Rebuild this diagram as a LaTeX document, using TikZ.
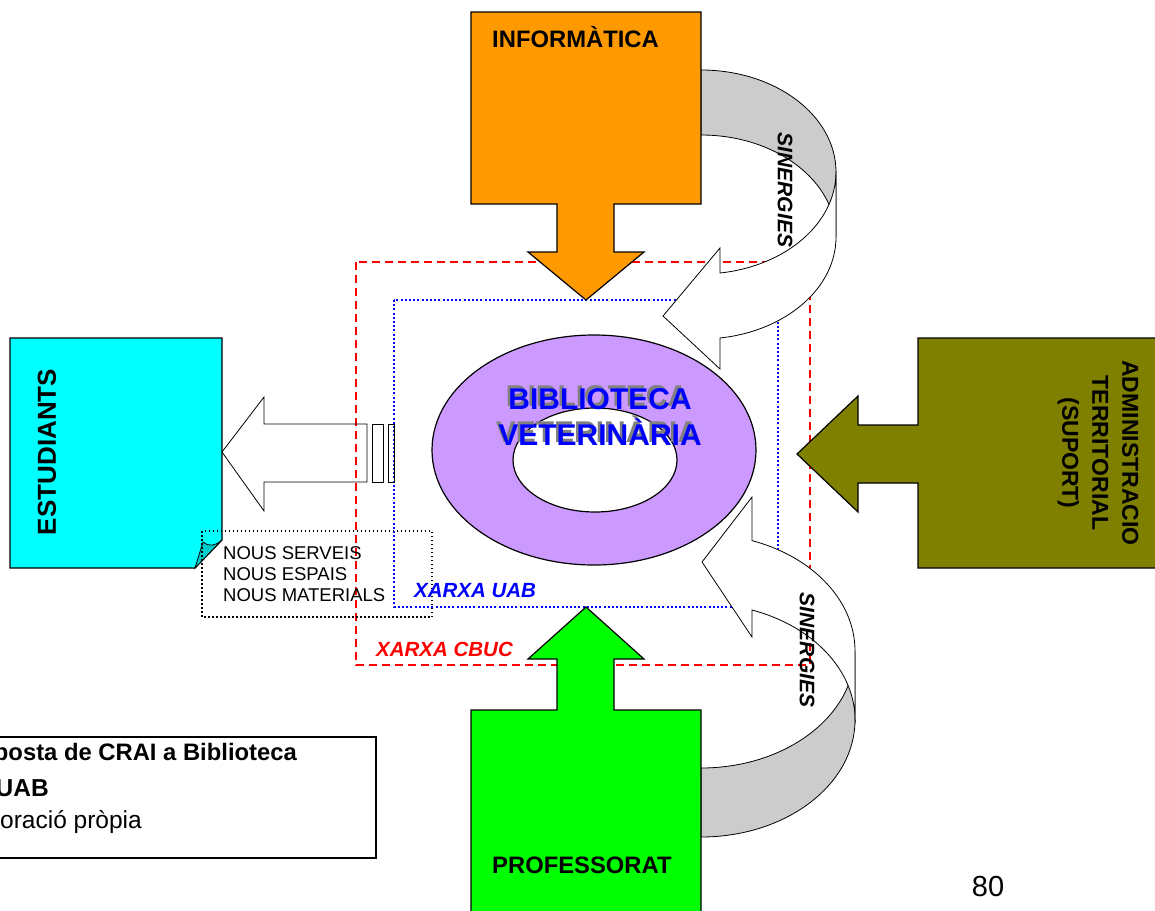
\documentclass[tikz,border=0pt]{standalone}
\usepackage{fontspec}
\setmainfont{Liberation Sans}
\usetikzlibrary{positioning}
\definecolor{informatica}{RGB}{255,153,0}
\definecolor{professorat}{RGB}{0,255,0}
\definecolor{estudiants}{RGB}{0,255,255}
\definecolor{plec}{RGB}{0,204,204}
\definecolor{admin}{RGB}{128,128,0}
\definecolor{biblio}{RGB}{204,153,255}
\definecolor{sinergia}{RGB}{204,204,204}

\begin{document}
\begin{tikzpicture}[x=1pt,y=-1pt,line join=miter,
  block/.style={draw=black,line width=1.2pt},
  outline/.style={draw=black,line width=0.8pt},
  band/.style={outline,fill=white},
  big/.style={font=\fontsize{23.8}{30}\selectfont\bfseries,inner sep=0pt},
  syn/.style={font=\fontsize{21}{25}\selectfont\bfseries\itshape,inner sep=0pt,rotate=-90},
  small/.style={font=\fontsize{18.5}{21}\selectfont,inner sep=0pt,anchor=west,align=left},
  xarxa/.style={font=\fontsize{20.5}{24}\selectfont\bfseries\itshape,inner sep=0pt,anchor=west},
  legend/.style={font=\fontsize{24.5}{28}\selectfont,inner sep=0pt,anchor=base east}]
\useasboundingbox (0,0) rectangle (1155,910);
\clip (0,0) rectangle (1155,910);

\draw[red,line width=1.5pt,dash pattern=on 8pt off 5pt] (356,262) rectangle (810,665);
\draw[blue,line width=2pt,dash pattern=on 2pt off 2.2pt] (394,300) rectangle (778,607);

% sinergies
\draw[outline,fill=sinergia] (701,70) arc[start angle=-90,end angle=0,x radius=135,y radius=102]
  -- (836,237) arc[start angle=0,end angle=-90,x radius=135,y radius=102] -- cycle;
\draw[outline,fill=sinergia] (701,768) arc[start angle=90,end angle=0,x radius=154,y radius=117]
  -- (855,720) arc[start angle=0,end angle=90,x radius=154,y radius=117] -- cycle;

\draw[block,fill=informatica] (471,12) -- (701,12) -- (701,204) -- (614,204) -- (614,252) -- (644,252)
  -- (586,300) -- (528,252) -- (557,252) -- (557,204) -- (471,204) -- cycle;
\draw[block,fill=professorat] (586,607) -- (644,659) -- (614,659) -- (614,710) -- (701,710) -- (701,925)
  -- (471,925) -- (471,710) -- (557,710) -- (557,659) -- (528,659) -- cycle;

\draw[band] (836,172) -- (836,237) arc[start angle=0,end angle=81.9,x radius=135,y radius=102]
  -- (720,369) -- (663,316) -- (720,248) -- (720,273)
  arc[start angle=81.9,end angle=0,x radius=135,y radius=102] -- cycle;
\draw[band] (855,720) -- (855,651) arc[start angle=0,end angle=-70.7,x radius=154,y radius=117]
  -- (752,497) -- (702,562) -- (752,637) -- (752,610)
  arc[start angle=-70.7,end angle=0,x radius=154,y radius=117] -- cycle;

\draw[block,fill=biblio] (594,450) ellipse[x radius=162,y radius=115];
\draw[block,fill=white] (595,460) ellipse[x radius=82,y radius=52];

\draw[block,fill=estudiants] (10,338) -- (222,338) -- (222,540) -- (195,568) -- (10,568) -- cycle;
\draw[outline,fill=plec] (195,568) -- (203,542) .. controls (209,547) and (216,546) .. (222,540) -- cycle;
\draw[block,fill=admin] (1165,338) -- (918,338) -- (918,425) -- (858,425) -- (858,396) -- (797,454)
  -- (858,512) -- (858,483) -- (918,483) -- (918,568) -- (1165,568) -- cycle;

\draw[outline] (222,452) -- (264,397) -- (264,424) -- (367,424) -- (367,482) -- (264,482) -- (264,511) -- cycle;
\draw[outline] (372,424) rectangle (383,482);
\draw[outline] (388,424) rectangle (394,482);
\draw[black,line width=1.5pt,dash pattern=on 1.5pt off 2.5pt] (202,531) rectangle (432,617);
\draw[block,fill=white] (-10,737) rectangle (376,858);

\node[big,anchor=west] (informatica) at (492,37) {INFORMÀTICA};
\node[big,anchor=west] (professorat) at (492,865) {PROFESSORAT};
\node[big,font=\fontsize{26}{30}\selectfont\bfseries,rotate=90] (estudiants) at (47,452) {ESTUDIANTS};
\node[big,font=\fontsize{23}{30}\selectfont\bfseries,rotate=-90,align=center] (admin) at (1098,453) {ADMINISTRACIO\\TERRITORIAL\\(SUPORT)};
\node[big,font=\fontsize{30}{36}\selectfont\bfseries,text=gray,align=center] (ombra) at (597.5,414.5) {BIBLIOTECA\\VETERINÀRIA};
\node[big,font=\fontsize{30}{36}\selectfont\bfseries,text=blue,align=center] (biblio) at (600,417) {BIBLIOTECA\\VETERINÀRIA};
\node[syn] (sin1) at (785,190) {SINERGIES};
\node[syn] (sin2) at (807,650) {SINERGIES};
\node[small] (nous) at (223,574) {NOUS SERVEIS\\NOUS ESPAIS\\NOUS MATERIALS};
\node[xarxa,text=blue] (uab) at (414,591) {XARXA UAB};
\node[xarxa,text=red] (cbuc) at (376,649) {XARXA CBUC};
\node[legend,font=\fontsize{23.8}{28}\selectfont] (leg1) at (297,760) {\bfseries posta de CRAI a Biblioteca};
\node[legend] (leg2) at (49,796) {\bfseries UAB};
\node[legend] (leg3) at (142,828) {oració pròpia};
\node[font=\fontsize{29}{32}\selectfont] (pagina) at (988,887) {80};
\end{tikzpicture}
\end{document}
